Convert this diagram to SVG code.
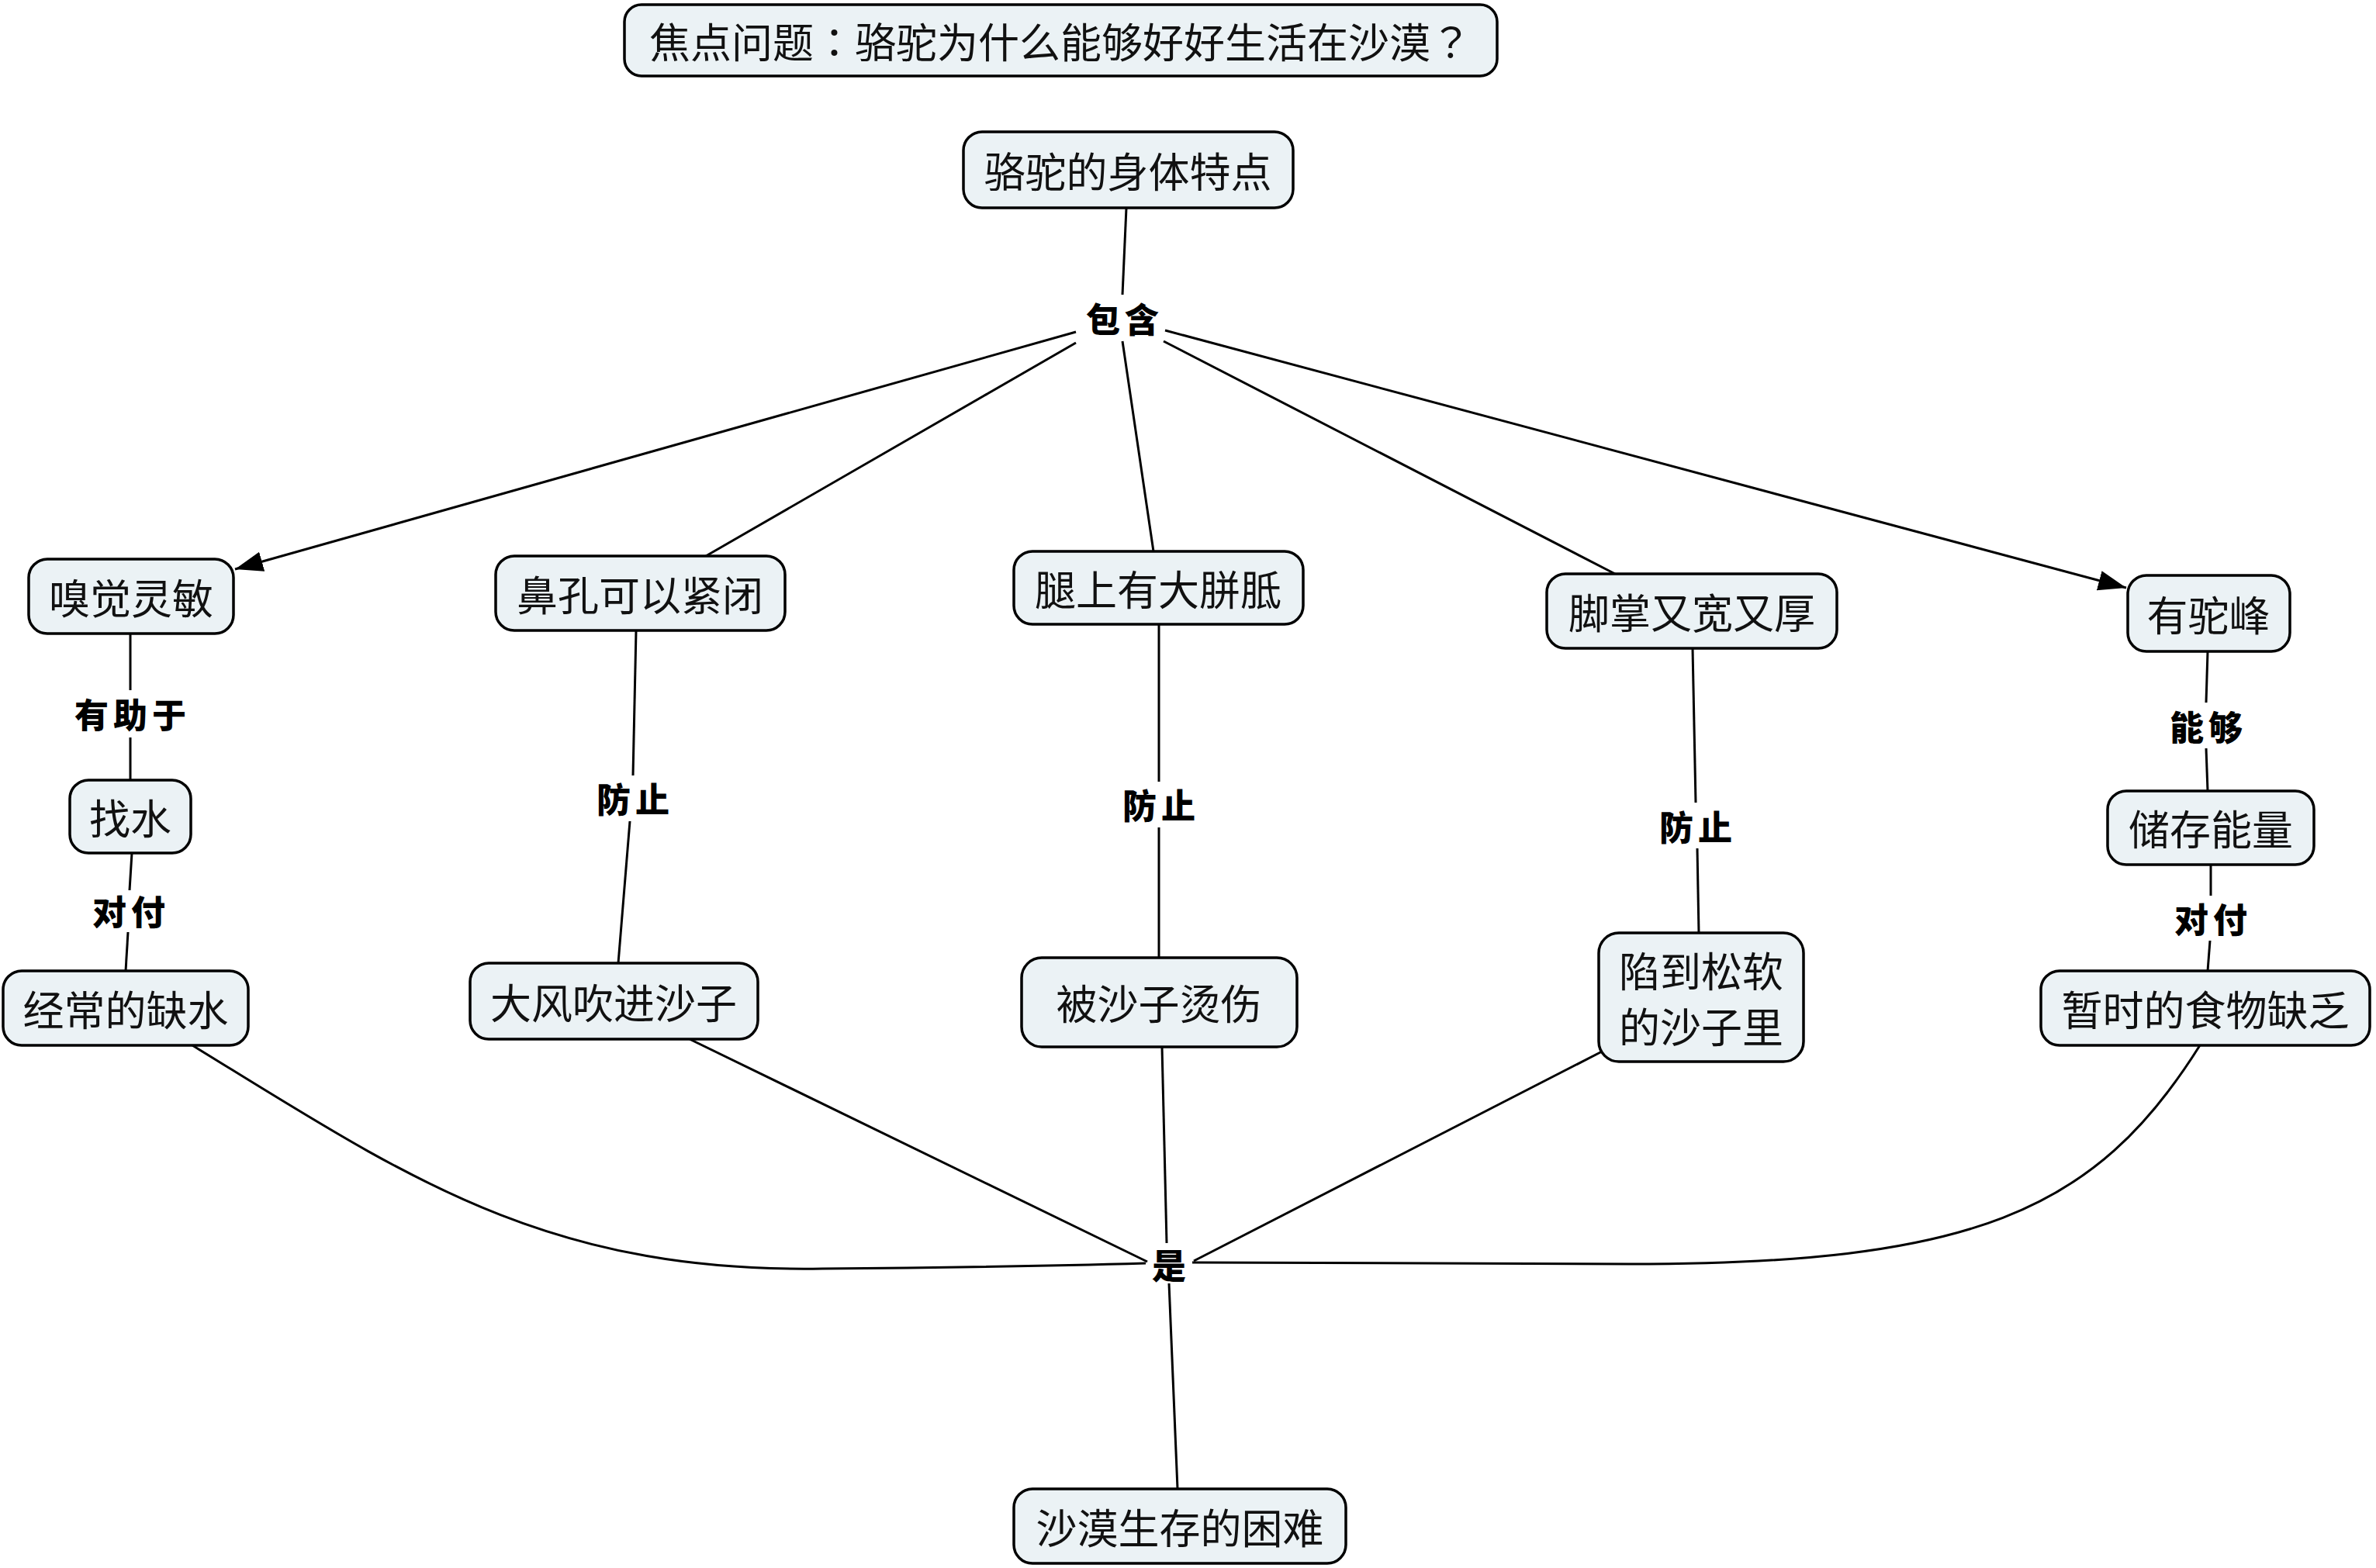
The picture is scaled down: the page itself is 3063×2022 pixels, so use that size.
<svg xmlns="http://www.w3.org/2000/svg" width="3063" height="2022" viewBox="0 0 3063 2022">
<defs>
<style>
.node rect{fill:#ebf2f5;stroke:#000;stroke-width:3.5}
.node text{font-family:"Noto Sans CJK SC","Noto Sans",sans-serif;font-size:53px;fill:#111;text-anchor:middle;dominant-baseline:central}
.punct{font-family:"Noto Sans CJK TC","Noto Sans CJK SC",sans-serif}
.lbl{font-family:"Noto Sans CJK SC","Noto Sans",sans-serif;font-size:44px;font-weight:900;fill:#000;text-anchor:middle;dominant-baseline:central;letter-spacing:6px}
.conn path,.conn line{fill:none;stroke:#000;stroke-width:3}
</style>
<marker id="arr" markerUnits="userSpaceOnUse" markerWidth="40" markerHeight="30" refX="36" refY="13" orient="auto">
<path d="M0,0 L36,13 L0,26 z" fill="#000"/>
</marker>
</defs>
<rect width="3063" height="2022" fill="#fff"/>
<g class="conn" id="connectors">
<line x1="1452" y1="268" x2="1447" y2="380"/>
<line x1="1387" y1="428" x2="303" y2="734" marker-end="url(#arr)"/>
<line x1="1387" y1="442" x2="910" y2="717"/>
<line x1="1447" y1="440" x2="1487" y2="711"/>
<line x1="1500" y1="440" x2="2082" y2="740"/>
<line x1="1502" y1="426" x2="2741" y2="758" marker-end="url(#arr)"/>
<line x1="168" y1="817" x2="168" y2="890"/>
<line x1="168" y1="951" x2="168" y2="1006"/>
<line x1="170" y1="1100" x2="167" y2="1148"/>
<line x1="165" y1="1202" x2="162" y2="1252"/>
<line x1="820" y1="813" x2="816" y2="1000"/>
<line x1="812" y1="1059" x2="797" y2="1242"/>
<line x1="1494" y1="805" x2="1494" y2="1008"/>
<line x1="1494" y1="1067" x2="1494" y2="1235"/>
<line x1="2182" y1="836" x2="2186" y2="1035"/>
<line x1="2188" y1="1094" x2="2190" y2="1203"/>
<line x1="2846" y1="840" x2="2844" y2="906"/>
<line x1="2844" y1="965" x2="2846" y2="1020"/>
<line x1="2850" y1="1115" x2="2850" y2="1155"/>
<line x1="2849" y1="1213" x2="2846" y2="1252"/>
<path d="M248,1348 C520,1515 700,1642 1060,1636 Q1300,1634 1477,1629"/>
<line x1="889" y1="1340" x2="1479" y2="1627"/>
<line x1="1498" y1="1350" x2="1504" y2="1603"/>
<line x1="2065" y1="1356" x2="1539" y2="1626"/>
<path d="M2836,1348 C2700,1565 2540,1630 2100,1630 Q1800,1628 1537,1628"/>
<line x1="1507" y1="1655" x2="1518" y2="1920"/>
</g>
<g id="labels">
<text class="lbl" x="1450" y="410">包含</text>
<text class="lbl" x="171" y="920">有助于</text>
<text class="lbl" x="169" y="1174">对付</text>
<text class="lbl" x="819" y="1029">防止</text>
<text class="lbl" x="1497" y="1037">防止</text>
<text class="lbl" x="2189" y="1065">防止</text>
<text class="lbl" x="2847" y="936">能够</text>
<text class="lbl" x="2853" y="1184">对付</text>
<text class="lbl" x="1510" y="1630">是</text>
</g>
<g class="node" id="n-focus"><rect x="805" y="6" width="1125" height="92" rx="22"/><text x="1367" y="52">焦点问题<tspan class="punct">：</tspan>骆驼为什么能够好好生活在沙漠<tspan class="punct">？</tspan></text></g>
<g class="node" id="n-body"><rect x="1242" y="170" width="425" height="98" rx="24"/><text x="1454" y="219">骆驼的身体特点</text></g>
<g class="node" id="n-smell"><rect x="37" y="721" width="264" height="96" rx="24"/><text x="169" y="769">嗅觉灵敏</text></g>
<g class="node" id="n-nose"><rect x="639" y="717" width="373" height="96" rx="24"/><text x="825" y="765">鼻孔可以紧闭</text></g>
<g class="node" id="n-leg"><rect x="1307" y="711" width="373" height="94" rx="24"/><text x="1493" y="758">腿上有大胼胝</text></g>
<g class="node" id="n-foot"><rect x="1994" y="740" width="374" height="96" rx="24"/><text x="2181" y="788">脚掌又宽又厚</text></g>
<g class="node" id="n-hump"><rect x="2743" y="742" width="209" height="98" rx="24"/><text x="2847" y="791">有驼峰</text></g>
<g class="node" id="n-water"><rect x="90" y="1006" width="156" height="94" rx="24"/><text x="168" y="1053">找水</text></g>
<g class="node" id="n-energy"><rect x="2717" y="1020" width="266" height="95" rx="24"/><text x="2850" y="1067">储存能量</text></g>
<g class="node" id="n-thirst"><rect x="4" y="1252" width="316" height="96" rx="24"/><text x="162" y="1300">经常的缺水</text></g>
<g class="node" id="n-wind"><rect x="606" y="1242" width="371" height="98" rx="24"/><text x="791" y="1291">大风吹进沙子</text></g>
<g class="node" id="n-burn"><rect x="1317" y="1235" width="355" height="115" rx="26"/><text x="1494" y="1292">被沙子烫伤</text></g>
<g class="node" id="n-sink"><rect x="2061" y="1203" width="264" height="166" rx="26"/><text x="2193" y="1250">陷到松软</text><text x="2193" y="1322">的沙子里</text></g>
<g class="node" id="n-food"><rect x="2631" y="1252" width="424" height="96" rx="24"/><text x="2843" y="1300">暂时的食物缺乏</text></g>
<g class="node" id="n-hard"><rect x="1307" y="1920" width="428" height="96" rx="24"/><text x="1521" y="1968">沙漠生存的困难</text></g>
</svg>
